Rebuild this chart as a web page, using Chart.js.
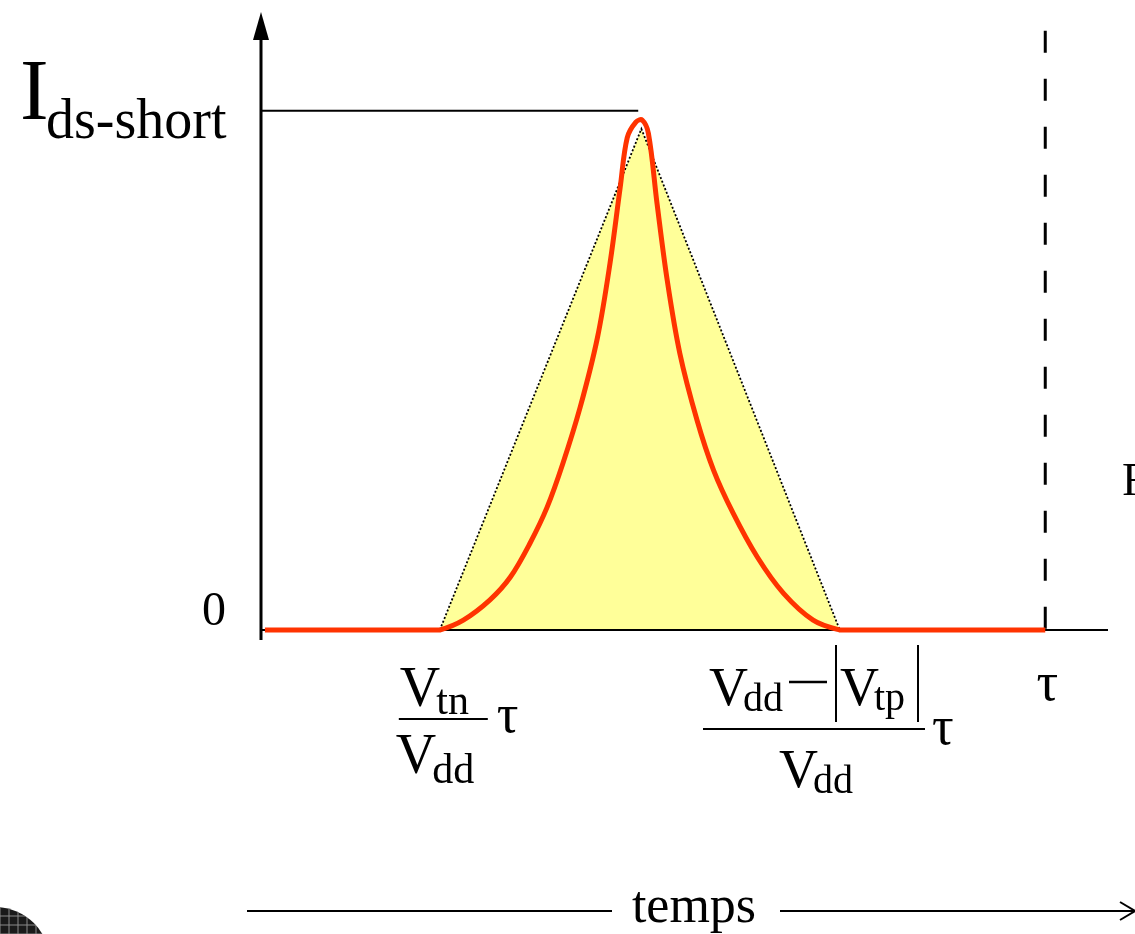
<!DOCTYPE html>
<html>
<head>
<meta charset="utf-8">
<script src="https://cdn.jsdelivr.net/npm/chart.js@4"></script>
<style>
    body { margin: 0; background: #fff; }
    #wrap { width: 1135px; height: 934px; position: relative; }
</style>
</head>
<body>
<div id="wrap"><canvas id="short_chart"></canvas></div>
<script>
// time in units of tau, current in units of Ids-short max
var vtnT = 0.228;       // Vtn/Vdd * tau
var vtpT = 0.738;       // (Vdd-|Vtp|)/Vdd * tau
var tauT = 1.0;
var xMax = 1.08;
var yMax = 1.19;

// short-circuit current (red)
var currentX = [0.005, 0.215, 0.228, 0.258, 0.292, 0.318, 0.343, 0.365, 0.385, 0.407, 0.429, 0.445, 0.458, 0.467, 0.478, 0.486, 0.494, 0.505, 0.518, 0.534, 0.556, 0.577, 0.602, 0.633, 0.666, 0.704, 0.738, 0.752, 1.0];
var currentY = [0, 0, 0, 0.019, 0.058, 0.102, 0.167, 0.237, 0.321, 0.429, 0.563, 0.706, 0.852, 0.948, 0.978, 0.982, 0.956, 0.821, 0.673, 0.533, 0.404, 0.308, 0.225, 0.140, 0.071, 0.019, 0, 0, 0];

// triangle approximation (yellow)
var triX = [vtnT, 0.485, vtpT];
var triY = [0, 0.965, 0];

// Imax level line and tau marker
var peakLineX = [0, 0.481];
var peakLineY = [1, 1];
var tauLineX = [tauT, tauT];
var tauLineY = [1.154, 0];

function pts(xs, ys) {
    return xs.map(function (x, i) { return { x: x, y: ys[i] }; });
}

var FONT = '"Liberation Serif", "Times New Roman", serif';

function txt(ctx, s, x, y, size, align) {
    ctx.font = size + 'px ' + FONT;
    ctx.textAlign = align || 'left';
    ctx.fillText(s, x, y);
    return ctx.measureText(s).width;
}

function line(ctx, x1, y1, x2, y2, w) {
    ctx.lineWidth = w;
    ctx.beginPath();
    ctx.moveTo(x1, y1);
    ctx.lineTo(x2, y2);
    ctx.stroke();
}

// axes drawn right before the red curve so it sits on top
var axesPlugin = {
    id: 'axesPlugin',
    beforeDatasetDraw: function (chart, args) {
        if (args.index !== 0) return;
        var ctx = chart.ctx, xs = chart.scales.x, ys = chart.scales.y;
        var x0 = xs.getPixelForValue(0), y0 = ys.getPixelForValue(0);
        ctx.save();
        ctx.strokeStyle = '#000';
        ctx.fillStyle = '#000';
        line(ctx, x0, y0, xs.getPixelForValue(xMax), y0, 2);
        line(ctx, x0, y0 + 10, x0, ys.getPixelForValue(yMax) + 20, 3);
        var top = ys.getPixelForValue(yMax);
        ctx.beginPath();
        ctx.moveTo(x0, top);
        ctx.lineTo(x0 - 8, top + 28);
        ctx.lineTo(x0 + 8, top + 28);
        ctx.closePath();
        ctx.fill();
        ctx.restore();
    },
    afterDraw: function (chart) {
        var ctx = chart.ctx, xs = chart.scales.x, ys = chart.scales.y;
        var y0 = ys.getPixelForValue(0), y1 = ys.getPixelForValue(1);
        ctx.save();
        ctx.fillStyle = '#000';
        ctx.strokeStyle = '#000';
        ctx.textBaseline = 'alphabetic';

        // y labels
        txt(ctx, 'I', 20, y1 + 8, 86);
        txt(ctx, 'ds-short', 46, y1 + 27, 56);
        txt(ctx, '0', 226, y0 - 5, 48, 'right');

        // Vtn/Vdd tau
        var cx = xs.getPixelForValue(vtnT) + 3;
        var w = txt(ctx, 'V', cx - 43, 706, 56);
        txt(ctx, 'tn', cx - 43 + w - 4, 714, 42);
        line(ctx, cx - 44, 719, cx + 45, 719, 2);
        w = txt(ctx, 'V', cx - 47, 773, 56);
        txt(ctx, 'dd', cx - 47 + w - 4, 783, 42);
        txt(ctx, 'τ', cx + 54, 732, 54);

        // (Vdd - |Vtp|)/Vdd tau
        w = txt(ctx, 'V', 709, 705, 54);
        txt(ctx, 'dd', 709 + w - 5, 711, 40);
        line(ctx, 789, 682, 827, 682, 2.5);
        line(ctx, 836, 645, 836, 722, 2);
        w = txt(ctx, 'V', 840, 705, 54);
        txt(ctx, 'tp', 840 + w - 5, 710, 40);
        line(ctx, 918, 645, 918, 722, 2);
        line(ctx, 703, 729, 925, 729, 2);
        w = txt(ctx, 'V', 779, 787, 54);
        txt(ctx, 'dd', 779 + w - 5, 793, 40);
        txt(ctx, 'τ', 932, 744, 54);

        // tau at the dashed line
        txt(ctx, 'τ', xs.getPixelForValue(tauT) + 2, 700, 54, 'center');

        // clipped letter at right edge
        txt(ctx, 'F', 1122, 495, 46);

        // temps arrow
        txt(ctx, 'temps', 694, 922, 52, 'center');
        line(ctx, 247, 911, 612, 911, 2);
        line(ctx, 780, 911, 1134, 911, 2);
        line(ctx, 1120, 902, 1135, 911, 2);
        line(ctx, 1120, 920, 1135, 911, 2);

        // logo corner
        ctx.beginPath();
        ctx.arc(-5, 962, 55, 0, Math.PI * 2);
        ctx.fillStyle = '#1a1a1a';
        ctx.fill();
        ctx.save();
        ctx.clip();
        ctx.strokeStyle = '#8a8a8a';
        for (var g = 0; g < 60; g += 9) {
            line(ctx, g, 900, g, 934, 1);
            line(ctx, 0, 907 + g, 60, 907 + g, 1);
        }
        ctx.restore();
        ctx.restore();
    }
};

var config = {
    type: 'line',
    data: {
        datasets: [{
            label: 'Ids',
            data: pts(currentX, currentY),
            borderColor: '#ff3300',
            borderWidth: 5,
            tension: 0.35,
            pointRadius: 0,
            fill: false,
            clip: false,
            order: 1
        }, {
            label: 'triangle',
            data: pts(triX, triY),
            borderColor: '#000',
            borderWidth: 1.8,
            borderDash: [2, 2],
            backgroundColor: '#ffff99',
            pointRadius: 0,
            tension: 0,
            fill: 'origin',
            clip: false,
            order: 3
        }, {
            label: 'Imax',
            data: pts(peakLineX, peakLineY),
            borderColor: '#000',
            borderWidth: 2,
            pointRadius: 0,
            fill: false,
            clip: false,
            order: 2
        }, {
            label: 'tau',
            data: pts(tauLineX, tauLineY),
            borderColor: '#000',
            borderWidth: 3,
            borderDash: [22, 26],
            pointRadius: 0,
            fill: false,
            clip: false,
            order: 2
        }]
    },
    options: {
        responsive: true,
        maintainAspectRatio: false,
        animation: false,
        layout: { padding: { left: 261, right: 27, top: 12, bottom: 304 } },
        plugins: { legend: { display: false }, tooltip: { enabled: false } },
        scales: {
            x: { type: 'linear', min: 0, max: xMax, display: false },
            y: { type: 'linear', min: 0, max: yMax, display: false }
        }
    },
    plugins: [axesPlugin]
};

var chart = new Chart(document.getElementById('short_chart').getContext('2d'), config);
</script>
</body>
</html>
